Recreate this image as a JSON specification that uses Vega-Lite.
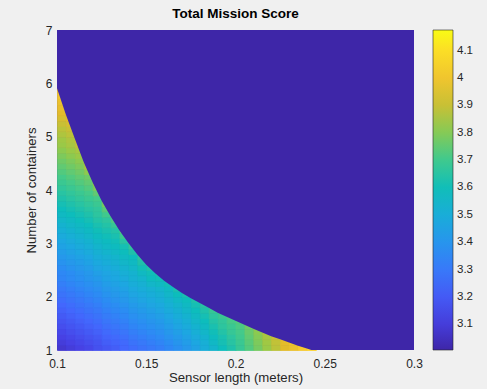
{
  "$schema": "https://vega.github.io/schema/vega-lite/v6.json",
  "width": 357,
  "height": 320,
  "autosize": {"type": "none"},
  "padding": {"left": 57, "top": 30, "right": 73, "bottom": 39},
  "background": "#F0F0F0",
  "title": {"text": "Total Mission Score", "fontSize": 13.5, "fontWeight": "bold", "color": "#000000", "font": "Liberation Sans", "offset": 4, "anchor": "middle"},
  "config": {
    "font": "Liberation Sans",
    "view": {"fill": "#3E26A8", "stroke": null},
    "axisX": {"labelFontSize": 12, "titleFontSize": 13.2, "titleFontWeight": "normal", "labelColor": "#262626", "titleColor": "#262626", "ticks": false, "domain": false, "grid": false, "labelPadding": 8, "titlePadding": 2, "labelFlush": false, "labelOverlap": false},
    "axisY": {"labelFontSize": 12, "titleFontSize": 13.2, "titleFontWeight": "normal", "labelColor": "#262626", "titleColor": "#262626", "ticks": false, "domain": false, "grid": false, "labelPadding": 5, "titlePadding": 7, "labelFlush": false, "labelOverlap": false}
  },
  "layer": [
    {
      "data": {"values": [
{"x":0.1025,"y":1.05,"score":3.08},{"x":0.1025,"y":1.15,"score":3.10},{"x":0.1025,"y":1.25,"score":3.12},{"x":0.1025,"y":1.35,"score":3.14},{"x":0.1025,"y":1.45,"score":3.16},{"x":0.1025,"y":1.55,"score":3.18},{"x":0.1025,"y":1.65,"score":3.20},{"x":0.1025,"y":1.75,"score":3.22},{"x":0.1025,"y":1.85,"score":3.24},{"x":0.1025,"y":1.95,"score":3.26},{"x":0.1025,"y":2.05,"score":3.28},{"x":0.1025,"y":2.15,"score":3.30},{"x":0.1025,"y":2.25,"score":3.32},{"x":0.1025,"y":2.35,"score":3.34},{"x":0.1025,"y":2.45,"score":3.35},{"x":0.1025,"y":2.55,"score":3.37},{"x":0.1025,"y":2.65,"score":3.39},{"x":0.1025,"y":2.75,"score":3.41},{"x":0.1025,"y":2.85,"score":3.43},{"x":0.1025,"y":2.95,"score":3.45},{"x":0.1025,"y":3.05,"score":3.47},{"x":0.1025,"y":3.15,"score":3.49},{"x":0.1025,"y":3.25,"score":3.51},{"x":0.1025,"y":3.35,"score":3.53},{"x":0.1025,"y":3.45,"score":3.55},{"x":0.1025,"y":3.55,"score":3.57},{"x":0.1025,"y":3.65,"score":3.59},{"x":0.1025,"y":3.75,"score":3.61},{"x":0.1025,"y":3.85,"score":3.63},{"x":0.1025,"y":3.95,"score":3.65},{"x":0.1025,"y":4.05,"score":3.67},{"x":0.1025,"y":4.15,"score":3.69},{"x":0.1025,"y":4.25,"score":3.71},{"x":0.1025,"y":4.35,"score":3.73},{"x":0.1025,"y":4.45,"score":3.75},{"x":0.1025,"y":4.55,"score":3.77},{"x":0.1025,"y":4.65,"score":3.79},{"x":0.1025,"y":4.75,"score":3.81},{"x":0.1025,"y":4.85,"score":3.83},{"x":0.1025,"y":4.95,"score":3.84},{"x":0.1025,"y":5.05,"score":3.86},{"x":0.1025,"y":5.15,"score":3.88},{"x":0.1025,"y":5.25,"score":3.90},{"x":0.1025,"y":5.35,"score":3.92},{"x":0.1025,"y":5.45,"score":3.94},{"x":0.1025,"y":5.55,"score":3.96},{"x":0.1025,"y":5.65,"score":3.98},{"x":0.1025,"y":5.75,"score":4.00},{"x":0.1025,"y":5.85,"score":4.02},{"x":0.1025,"y":5.95,"score":4.04},
{"x":0.1075,"y":1.05,"score":3.10},{"x":0.1075,"y":1.15,"score":3.12},{"x":0.1075,"y":1.25,"score":3.14},{"x":0.1075,"y":1.35,"score":3.16},{"x":0.1075,"y":1.45,"score":3.18},{"x":0.1075,"y":1.55,"score":3.20},{"x":0.1075,"y":1.65,"score":3.22},{"x":0.1075,"y":1.75,"score":3.24},{"x":0.1075,"y":1.85,"score":3.26},{"x":0.1075,"y":1.95,"score":3.28},{"x":0.1075,"y":2.05,"score":3.30},{"x":0.1075,"y":2.15,"score":3.32},{"x":0.1075,"y":2.25,"score":3.34},{"x":0.1075,"y":2.35,"score":3.36},{"x":0.1075,"y":2.45,"score":3.37},{"x":0.1075,"y":2.55,"score":3.39},{"x":0.1075,"y":2.65,"score":3.41},{"x":0.1075,"y":2.75,"score":3.43},{"x":0.1075,"y":2.85,"score":3.45},{"x":0.1075,"y":2.95,"score":3.47},{"x":0.1075,"y":3.05,"score":3.49},{"x":0.1075,"y":3.15,"score":3.51},{"x":0.1075,"y":3.25,"score":3.53},{"x":0.1075,"y":3.35,"score":3.55},{"x":0.1075,"y":3.45,"score":3.57},{"x":0.1075,"y":3.55,"score":3.59},{"x":0.1075,"y":3.65,"score":3.61},{"x":0.1075,"y":3.75,"score":3.63},{"x":0.1075,"y":3.85,"score":3.65},{"x":0.1075,"y":3.95,"score":3.67},{"x":0.1075,"y":4.05,"score":3.69},{"x":0.1075,"y":4.15,"score":3.71},{"x":0.1075,"y":4.25,"score":3.73},{"x":0.1075,"y":4.35,"score":3.75},{"x":0.1075,"y":4.45,"score":3.77},{"x":0.1075,"y":4.55,"score":3.79},{"x":0.1075,"y":4.65,"score":3.81},{"x":0.1075,"y":4.75,"score":3.83},{"x":0.1075,"y":4.85,"score":3.85},{"x":0.1075,"y":4.95,"score":3.86},{"x":0.1075,"y":5.05,"score":3.88},{"x":0.1075,"y":5.15,"score":3.90},{"x":0.1075,"y":5.25,"score":3.92},{"x":0.1075,"y":5.35,"score":3.94},{"x":0.1075,"y":5.45,"score":3.97},
{"x":0.1125,"y":1.05,"score":3.12},{"x":0.1125,"y":1.15,"score":3.14},{"x":0.1125,"y":1.25,"score":3.16},{"x":0.1125,"y":1.35,"score":3.18},{"x":0.1125,"y":1.45,"score":3.20},{"x":0.1125,"y":1.55,"score":3.22},{"x":0.1125,"y":1.65,"score":3.24},{"x":0.1125,"y":1.75,"score":3.26},{"x":0.1125,"y":1.85,"score":3.28},{"x":0.1125,"y":1.95,"score":3.30},{"x":0.1125,"y":2.05,"score":3.32},{"x":0.1125,"y":2.15,"score":3.34},{"x":0.1125,"y":2.25,"score":3.36},{"x":0.1125,"y":2.35,"score":3.38},{"x":0.1125,"y":2.45,"score":3.39},{"x":0.1125,"y":2.55,"score":3.41},{"x":0.1125,"y":2.65,"score":3.43},{"x":0.1125,"y":2.75,"score":3.45},{"x":0.1125,"y":2.85,"score":3.47},{"x":0.1125,"y":2.95,"score":3.49},{"x":0.1125,"y":3.05,"score":3.51},{"x":0.1125,"y":3.15,"score":3.53},{"x":0.1125,"y":3.25,"score":3.55},{"x":0.1125,"y":3.35,"score":3.57},{"x":0.1125,"y":3.45,"score":3.59},{"x":0.1125,"y":3.55,"score":3.61},{"x":0.1125,"y":3.65,"score":3.63},{"x":0.1125,"y":3.75,"score":3.65},{"x":0.1125,"y":3.85,"score":3.67},{"x":0.1125,"y":3.95,"score":3.69},{"x":0.1125,"y":4.05,"score":3.71},{"x":0.1125,"y":4.15,"score":3.73},{"x":0.1125,"y":4.25,"score":3.75},{"x":0.1125,"y":4.35,"score":3.77},{"x":0.1125,"y":4.45,"score":3.79},{"x":0.1125,"y":4.55,"score":3.81},{"x":0.1125,"y":4.65,"score":3.83},{"x":0.1125,"y":4.75,"score":3.85},{"x":0.1125,"y":4.85,"score":3.89},{"x":0.1125,"y":4.95,"score":3.91},
{"x":0.1175,"y":1.05,"score":3.14},{"x":0.1175,"y":1.15,"score":3.16},{"x":0.1175,"y":1.25,"score":3.18},{"x":0.1175,"y":1.35,"score":3.20},{"x":0.1175,"y":1.45,"score":3.22},{"x":0.1175,"y":1.55,"score":3.24},{"x":0.1175,"y":1.65,"score":3.26},{"x":0.1175,"y":1.75,"score":3.28},{"x":0.1175,"y":1.85,"score":3.30},{"x":0.1175,"y":1.95,"score":3.32},{"x":0.1175,"y":2.05,"score":3.34},{"x":0.1175,"y":2.15,"score":3.36},{"x":0.1175,"y":2.25,"score":3.38},{"x":0.1175,"y":2.35,"score":3.40},{"x":0.1175,"y":2.45,"score":3.41},{"x":0.1175,"y":2.55,"score":3.43},{"x":0.1175,"y":2.65,"score":3.45},{"x":0.1175,"y":2.75,"score":3.47},{"x":0.1175,"y":2.85,"score":3.49},{"x":0.1175,"y":2.95,"score":3.51},{"x":0.1175,"y":3.05,"score":3.53},{"x":0.1175,"y":3.15,"score":3.55},{"x":0.1175,"y":3.25,"score":3.57},{"x":0.1175,"y":3.35,"score":3.59},{"x":0.1175,"y":3.45,"score":3.61},{"x":0.1175,"y":3.55,"score":3.63},{"x":0.1175,"y":3.65,"score":3.65},{"x":0.1175,"y":3.75,"score":3.67},{"x":0.1175,"y":3.85,"score":3.69},{"x":0.1175,"y":3.95,"score":3.71},{"x":0.1175,"y":4.05,"score":3.73},{"x":0.1175,"y":4.15,"score":3.75},{"x":0.1175,"y":4.25,"score":3.77},{"x":0.1175,"y":4.35,"score":3.81},{"x":0.1175,"y":4.45,"score":3.85},{"x":0.1175,"y":4.55,"score":3.89},
{"x":0.1225,"y":1.05,"score":3.17},{"x":0.1225,"y":1.15,"score":3.18},{"x":0.1225,"y":1.25,"score":3.20},{"x":0.1225,"y":1.35,"score":3.22},{"x":0.1225,"y":1.45,"score":3.24},{"x":0.1225,"y":1.55,"score":3.26},{"x":0.1225,"y":1.65,"score":3.28},{"x":0.1225,"y":1.75,"score":3.30},{"x":0.1225,"y":1.85,"score":3.32},{"x":0.1225,"y":1.95,"score":3.34},{"x":0.1225,"y":2.05,"score":3.36},{"x":0.1225,"y":2.15,"score":3.38},{"x":0.1225,"y":2.25,"score":3.40},{"x":0.1225,"y":2.35,"score":3.42},{"x":0.1225,"y":2.45,"score":3.44},{"x":0.1225,"y":2.55,"score":3.46},{"x":0.1225,"y":2.65,"score":3.48},{"x":0.1225,"y":2.75,"score":3.50},{"x":0.1225,"y":2.85,"score":3.52},{"x":0.1225,"y":2.95,"score":3.54},{"x":0.1225,"y":3.05,"score":3.56},{"x":0.1225,"y":3.15,"score":3.58},{"x":0.1225,"y":3.25,"score":3.60},{"x":0.1225,"y":3.35,"score":3.62},{"x":0.1225,"y":3.45,"score":3.64},{"x":0.1225,"y":3.55,"score":3.66},{"x":0.1225,"y":3.65,"score":3.67},{"x":0.1225,"y":3.75,"score":3.69},{"x":0.1225,"y":3.85,"score":3.71},{"x":0.1225,"y":3.95,"score":3.75},{"x":0.1225,"y":4.05,"score":3.79},{"x":0.1225,"y":4.15,"score":3.83},
{"x":0.1275,"y":1.05,"score":3.19},{"x":0.1275,"y":1.15,"score":3.21},{"x":0.1275,"y":1.25,"score":3.23},{"x":0.1275,"y":1.35,"score":3.25},{"x":0.1275,"y":1.45,"score":3.27},{"x":0.1275,"y":1.55,"score":3.29},{"x":0.1275,"y":1.65,"score":3.31},{"x":0.1275,"y":1.75,"score":3.33},{"x":0.1275,"y":1.85,"score":3.35},{"x":0.1275,"y":1.95,"score":3.37},{"x":0.1275,"y":2.05,"score":3.39},{"x":0.1275,"y":2.15,"score":3.41},{"x":0.1275,"y":2.25,"score":3.43},{"x":0.1275,"y":2.35,"score":3.45},{"x":0.1275,"y":2.45,"score":3.46},{"x":0.1275,"y":2.55,"score":3.48},{"x":0.1275,"y":2.65,"score":3.50},{"x":0.1275,"y":2.75,"score":3.52},{"x":0.1275,"y":2.85,"score":3.54},{"x":0.1275,"y":2.95,"score":3.56},{"x":0.1275,"y":3.05,"score":3.58},{"x":0.1275,"y":3.15,"score":3.60},{"x":0.1275,"y":3.25,"score":3.62},{"x":0.1275,"y":3.35,"score":3.64},{"x":0.1275,"y":3.45,"score":3.66},{"x":0.1275,"y":3.55,"score":3.70},{"x":0.1275,"y":3.65,"score":3.74},{"x":0.1275,"y":3.75,"score":3.78},
{"x":0.1325,"y":1.05,"score":3.21},{"x":0.1325,"y":1.15,"score":3.23},{"x":0.1325,"y":1.25,"score":3.25},{"x":0.1325,"y":1.35,"score":3.27},{"x":0.1325,"y":1.45,"score":3.29},{"x":0.1325,"y":1.55,"score":3.31},{"x":0.1325,"y":1.65,"score":3.33},{"x":0.1325,"y":1.75,"score":3.35},{"x":0.1325,"y":1.85,"score":3.37},{"x":0.1325,"y":1.95,"score":3.39},{"x":0.1325,"y":2.05,"score":3.41},{"x":0.1325,"y":2.15,"score":3.43},{"x":0.1325,"y":2.25,"score":3.45},{"x":0.1325,"y":2.35,"score":3.47},{"x":0.1325,"y":2.45,"score":3.48},{"x":0.1325,"y":2.55,"score":3.50},{"x":0.1325,"y":2.65,"score":3.52},{"x":0.1325,"y":2.75,"score":3.54},{"x":0.1325,"y":2.85,"score":3.56},{"x":0.1325,"y":2.95,"score":3.58},{"x":0.1325,"y":3.05,"score":3.60},{"x":0.1325,"y":3.15,"score":3.62},{"x":0.1325,"y":3.25,"score":3.64},{"x":0.1325,"y":3.35,"score":3.68},{"x":0.1325,"y":3.45,"score":3.72},{"x":0.1325,"y":3.55,"score":3.76},
{"x":0.1375,"y":1.05,"score":3.24},{"x":0.1375,"y":1.15,"score":3.25},{"x":0.1375,"y":1.25,"score":3.27},{"x":0.1375,"y":1.35,"score":3.29},{"x":0.1375,"y":1.45,"score":3.31},{"x":0.1375,"y":1.55,"score":3.33},{"x":0.1375,"y":1.65,"score":3.35},{"x":0.1375,"y":1.75,"score":3.37},{"x":0.1375,"y":1.85,"score":3.39},{"x":0.1375,"y":1.95,"score":3.41},{"x":0.1375,"y":2.05,"score":3.43},{"x":0.1375,"y":2.15,"score":3.45},{"x":0.1375,"y":2.25,"score":3.47},{"x":0.1375,"y":2.35,"score":3.49},{"x":0.1375,"y":2.45,"score":3.51},{"x":0.1375,"y":2.55,"score":3.53},{"x":0.1375,"y":2.65,"score":3.55},{"x":0.1375,"y":2.75,"score":3.57},{"x":0.1375,"y":2.85,"score":3.59},{"x":0.1375,"y":2.95,"score":3.61},{"x":0.1375,"y":3.05,"score":3.65},{"x":0.1375,"y":3.15,"score":3.69},{"x":0.1375,"y":3.25,"score":3.73},
{"x":0.1425,"y":1.05,"score":3.26},{"x":0.1425,"y":1.15,"score":3.28},{"x":0.1425,"y":1.25,"score":3.30},{"x":0.1425,"y":1.35,"score":3.32},{"x":0.1425,"y":1.45,"score":3.34},{"x":0.1425,"y":1.55,"score":3.36},{"x":0.1425,"y":1.65,"score":3.38},{"x":0.1425,"y":1.75,"score":3.40},{"x":0.1425,"y":1.85,"score":3.42},{"x":0.1425,"y":1.95,"score":3.44},{"x":0.1425,"y":2.05,"score":3.46},{"x":0.1425,"y":2.15,"score":3.48},{"x":0.1425,"y":2.25,"score":3.50},{"x":0.1425,"y":2.35,"score":3.52},{"x":0.1425,"y":2.45,"score":3.53},{"x":0.1425,"y":2.55,"score":3.55},{"x":0.1425,"y":2.65,"score":3.57},{"x":0.1425,"y":2.75,"score":3.59},{"x":0.1425,"y":2.85,"score":3.63},{"x":0.1425,"y":2.95,"score":3.67},{"x":0.1425,"y":3.05,"score":3.71},
{"x":0.1475,"y":1.05,"score":3.28},{"x":0.1475,"y":1.15,"score":3.30},{"x":0.1475,"y":1.25,"score":3.32},{"x":0.1475,"y":1.35,"score":3.34},{"x":0.1475,"y":1.45,"score":3.36},{"x":0.1475,"y":1.55,"score":3.38},{"x":0.1475,"y":1.65,"score":3.40},{"x":0.1475,"y":1.75,"score":3.42},{"x":0.1475,"y":1.85,"score":3.44},{"x":0.1475,"y":1.95,"score":3.46},{"x":0.1475,"y":2.05,"score":3.48},{"x":0.1475,"y":2.15,"score":3.50},{"x":0.1475,"y":2.25,"score":3.52},{"x":0.1475,"y":2.35,"score":3.54},{"x":0.1475,"y":2.45,"score":3.57},{"x":0.1475,"y":2.55,"score":3.60},{"x":0.1475,"y":2.65,"score":3.63},{"x":0.1475,"y":2.75,"score":3.66},
{"x":0.1525,"y":1.05,"score":3.30},{"x":0.1525,"y":1.15,"score":3.32},{"x":0.1525,"y":1.25,"score":3.34},{"x":0.1525,"y":1.35,"score":3.36},{"x":0.1525,"y":1.45,"score":3.38},{"x":0.1525,"y":1.55,"score":3.40},{"x":0.1525,"y":1.65,"score":3.42},{"x":0.1525,"y":1.75,"score":3.44},{"x":0.1525,"y":1.85,"score":3.46},{"x":0.1525,"y":1.95,"score":3.48},{"x":0.1525,"y":2.05,"score":3.50},{"x":0.1525,"y":2.15,"score":3.52},{"x":0.1525,"y":2.25,"score":3.55},{"x":0.1525,"y":2.35,"score":3.58},{"x":0.1525,"y":2.45,"score":3.60},{"x":0.1525,"y":2.55,"score":3.63},
{"x":0.1575,"y":1.05,"score":3.32},{"x":0.1575,"y":1.15,"score":3.34},{"x":0.1575,"y":1.25,"score":3.36},{"x":0.1575,"y":1.35,"score":3.38},{"x":0.1575,"y":1.45,"score":3.40},{"x":0.1575,"y":1.55,"score":3.42},{"x":0.1575,"y":1.65,"score":3.44},{"x":0.1575,"y":1.75,"score":3.46},{"x":0.1575,"y":1.85,"score":3.48},{"x":0.1575,"y":1.95,"score":3.50},{"x":0.1575,"y":2.05,"score":3.52},{"x":0.1575,"y":2.15,"score":3.54},{"x":0.1575,"y":2.25,"score":3.57},{"x":0.1575,"y":2.35,"score":3.60},{"x":0.1575,"y":2.45,"score":3.62},
{"x":0.1625,"y":1.05,"score":3.35},{"x":0.1625,"y":1.15,"score":3.37},{"x":0.1625,"y":1.25,"score":3.39},{"x":0.1625,"y":1.35,"score":3.41},{"x":0.1625,"y":1.45,"score":3.43},{"x":0.1625,"y":1.55,"score":3.45},{"x":0.1625,"y":1.65,"score":3.47},{"x":0.1625,"y":1.75,"score":3.49},{"x":0.1625,"y":1.85,"score":3.51},{"x":0.1625,"y":1.95,"score":3.53},{"x":0.1625,"y":2.05,"score":3.55},{"x":0.1625,"y":2.15,"score":3.57},{"x":0.1625,"y":2.25,"score":3.60},{"x":0.1625,"y":2.35,"score":3.63},
{"x":0.1675,"y":1.05,"score":3.38},{"x":0.1675,"y":1.15,"score":3.40},{"x":0.1675,"y":1.25,"score":3.42},{"x":0.1675,"y":1.35,"score":3.44},{"x":0.1675,"y":1.45,"score":3.46},{"x":0.1675,"y":1.55,"score":3.48},{"x":0.1675,"y":1.65,"score":3.50},{"x":0.1675,"y":1.75,"score":3.52},{"x":0.1675,"y":1.85,"score":3.54},{"x":0.1675,"y":1.95,"score":3.56},{"x":0.1675,"y":2.05,"score":3.59},{"x":0.1675,"y":2.15,"score":3.62},
{"x":0.1725,"y":1.05,"score":3.41},{"x":0.1725,"y":1.15,"score":3.43},{"x":0.1725,"y":1.25,"score":3.45},{"x":0.1725,"y":1.35,"score":3.47},{"x":0.1725,"y":1.45,"score":3.49},{"x":0.1725,"y":1.55,"score":3.51},{"x":0.1725,"y":1.65,"score":3.53},{"x":0.1725,"y":1.75,"score":3.55},{"x":0.1725,"y":1.85,"score":3.57},{"x":0.1725,"y":1.95,"score":3.59},{"x":0.1725,"y":2.05,"score":3.62},
{"x":0.1775,"y":1.05,"score":3.45},{"x":0.1775,"y":1.15,"score":3.47},{"x":0.1775,"y":1.25,"score":3.49},{"x":0.1775,"y":1.35,"score":3.51},{"x":0.1775,"y":1.45,"score":3.53},{"x":0.1775,"y":1.55,"score":3.55},{"x":0.1775,"y":1.65,"score":3.57},{"x":0.1775,"y":1.75,"score":3.59},{"x":0.1775,"y":1.85,"score":3.61},{"x":0.1775,"y":1.95,"score":3.63},
{"x":0.1825,"y":1.05,"score":3.50},{"x":0.1825,"y":1.15,"score":3.51},{"x":0.1825,"y":1.25,"score":3.53},{"x":0.1825,"y":1.35,"score":3.55},{"x":0.1825,"y":1.45,"score":3.57},{"x":0.1825,"y":1.55,"score":3.59},{"x":0.1825,"y":1.65,"score":3.61},{"x":0.1825,"y":1.75,"score":3.63},{"x":0.1825,"y":1.85,"score":3.65},
{"x":0.1875,"y":1.05,"score":3.54},{"x":0.1875,"y":1.15,"score":3.56},{"x":0.1875,"y":1.25,"score":3.58},{"x":0.1875,"y":1.35,"score":3.60},{"x":0.1875,"y":1.45,"score":3.62},{"x":0.1875,"y":1.55,"score":3.64},{"x":0.1875,"y":1.65,"score":3.66},{"x":0.1875,"y":1.75,"score":3.68},
{"x":0.1925,"y":1.05,"score":3.59},{"x":0.1925,"y":1.15,"score":3.61},{"x":0.1925,"y":1.25,"score":3.62},{"x":0.1925,"y":1.35,"score":3.64},{"x":0.1925,"y":1.45,"score":3.66},{"x":0.1925,"y":1.55,"score":3.67},{"x":0.1925,"y":1.65,"score":3.69},{"x":0.1925,"y":1.75,"score":3.71},
{"x":0.1975,"y":1.05,"score":3.63},{"x":0.1975,"y":1.15,"score":3.65},{"x":0.1975,"y":1.25,"score":3.66},{"x":0.1975,"y":1.35,"score":3.68},{"x":0.1975,"y":1.45,"score":3.69},{"x":0.1975,"y":1.55,"score":3.71},{"x":0.1975,"y":1.65,"score":3.72},
{"x":0.2025,"y":1.05,"score":3.68},{"x":0.2025,"y":1.15,"score":3.69},{"x":0.2025,"y":1.25,"score":3.70},{"x":0.2025,"y":1.35,"score":3.71},{"x":0.2025,"y":1.45,"score":3.72},{"x":0.2025,"y":1.55,"score":3.73},
{"x":0.2075,"y":1.05,"score":3.73},{"x":0.2075,"y":1.15,"score":3.74},{"x":0.2075,"y":1.25,"score":3.75},{"x":0.2075,"y":1.35,"score":3.76},{"x":0.2075,"y":1.45,"score":3.77},
{"x":0.2125,"y":1.05,"score":3.78},{"x":0.2125,"y":1.15,"score":3.79},{"x":0.2125,"y":1.25,"score":3.80},{"x":0.2125,"y":1.35,"score":3.81},{"x":0.2125,"y":1.45,"score":3.82},
{"x":0.2175,"y":1.05,"score":3.83},{"x":0.2175,"y":1.15,"score":3.84},{"x":0.2175,"y":1.25,"score":3.85},{"x":0.2175,"y":1.35,"score":3.86},
{"x":0.2225,"y":1.05,"score":3.88},{"x":0.2225,"y":1.15,"score":3.89},{"x":0.2225,"y":1.25,"score":3.90},
{"x":0.2275,"y":1.05,"score":3.94},{"x":0.2275,"y":1.15,"score":3.95},{"x":0.2275,"y":1.25,"score":3.96},
{"x":0.2325,"y":1.05,"score":3.98},{"x":0.2325,"y":1.15,"score":3.99},
{"x":0.2375,"y":1.05,"score":4.03},{"x":0.2375,"y":1.15,"score":4.04},
{"x":0.2425,"y":1.05,"score":4.07}
      ]},
      "mark": {"type": "rect", "strokeWidth": 0.8, "stroke": {"expr": "scale('color', datum.score)"}},
      "encoding": {
        "x": {"field": "x", "type": "quantitative", "bin": {"step": 0.005, "extent": [0.1, 0.3], "nice": false}, "scale": {"domain": [0.1, 0.3], "nice": false, "zero": false}, "axis": {"title": "Sensor length (meters)", "values": [0.1, 0.15, 0.2, 0.25, 0.3], "format": "~g"}},
        "y": {"field": "y", "type": "quantitative", "bin": {"step": 0.1, "extent": [1, 7], "nice": false}, "scale": {"domain": [1, 7], "nice": false, "zero": false}, "axis": {"title": "Number of containers", "values": [1, 2, 3, 4, 5, 6, 7], "format": "d"}},
        "color": {
          "field": "score", "type": "quantitative",
          "scale": {"domain": [3.006, 4.175], "range": ["#3E26A8", "#4742E6", "#4367FD", "#2D8AF5", "#1DA8E0", "#0DBDBC", "#42CA8B", "#96CA48", "#E3BB2B", "#FCCE30", "#F9FB15"], "interpolate": "rgb"},
          "legend": {"type": "gradient", "title": null, "orient": "none", "legendX": 376, "legendY": 0, "direction": "vertical", "gradientLength": 320, "gradientThickness": 20, "values": [3.1, 3.2, 3.3, 3.4, 3.5, 3.6, 3.7, 3.8, 3.9, 4.0, 4.1], "format": ".1~f", "labelFontSize": 11.5, "labelColor": "#262626", "labelOffset": 4, "gradientStrokeColor": "#262626", "gradientStrokeWidth": 0.6, "labelOverlap": false, "padding": 0}
        }
      }
    },
    {
      "data": {"values": [
        {"x":0.100,"b":5.91},{"x":0.105,"b":5.41},{"x":0.110,"b":4.96},{"x":0.115,"b":4.52},{"x":0.120,"b":4.14},{"x":0.125,"b":3.80},{"x":0.130,"b":3.51},{"x":0.135,"b":3.24},{"x":0.140,"b":3.005},{"x":0.145,"b":2.79},{"x":0.150,"b":2.60},{"x":0.155,"b":2.44},{"x":0.160,"b":2.30},{"x":0.165,"b":2.18},{"x":0.170,"b":2.07},{"x":0.175,"b":1.97},{"x":0.180,"b":1.88},{"x":0.185,"b":1.79},{"x":0.190,"b":1.70},{"x":0.195,"b":1.625},{"x":0.200,"b":1.55},{"x":0.205,"b":1.475},{"x":0.210,"b":1.40},{"x":0.215,"b":1.33},{"x":0.220,"b":1.26},{"x":0.225,"b":1.20},{"x":0.230,"b":1.14},{"x":0.235,"b":1.08},{"x":0.240,"b":1.03},{"x":0.2425,"b":1.00},{"x":0.300,"b":1.00}
      ]},
      "mark": {"type": "area", "color": "#3E26A8", "interpolate": "linear"},
      "encoding": {
        "x": {"field": "x", "type": "quantitative", "scale": {"domain": [0.1, 0.3], "nice": false, "zero": false}, "axis": {"title": "Sensor length (meters)", "values": [0.1, 0.15, 0.2, 0.25, 0.3], "format": "~g"}},
        "y": {"field": "b", "type": "quantitative", "stack": null, "scale": {"domain": [1, 7], "nice": false, "zero": false}, "axis": {"title": "Number of containers", "values": [1, 2, 3, 4, 5, 6, 7], "format": "d"}},
        "y2": {"datum": 7}
      }
    }
  ]
}
